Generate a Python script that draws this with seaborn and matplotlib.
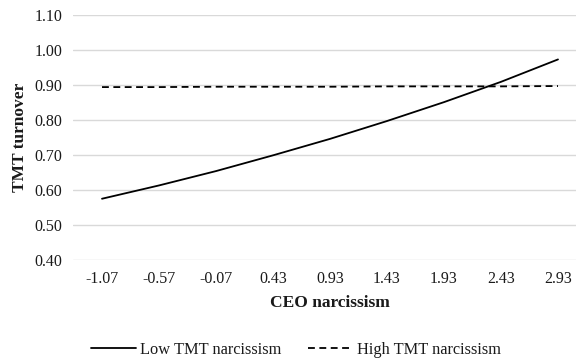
import matplotlib
import matplotlib.pyplot as plt
import pandas as pd
import seaborn as sns

matplotlib.use("agg")

# Data
ceo_narcissism = ["-1.07", "-0.57", "-0.07", "0.43", "0.93", "1.43", "1.93", "2.43", "2.93"]
low_tmt = [0.575, 0.613, 0.654, 0.699, 0.746, 0.797, 0.851, 0.909, 0.973]
high_tmt = [0.894, 0.894, 0.895, 0.895, 0.895, 0.896, 0.896, 0.896, 0.897]
y_ticks = [0.40, 0.50, 0.60, 0.70, 0.80, 0.90, 1.00, 1.10]

low_name = "Low TMT narcissism"
high_name = "High TMT narcissism"

df = pd.concat(
    [
        pd.DataFrame({"CEO": ceo_narcissism, "TMT": low_tmt, "group": low_name}),
        pd.DataFrame({"CEO": ceo_narcissism, "TMT": high_tmt, "group": high_name}),
    ],
    ignore_index=True,
)

sns.set_style("white")
plt.rcParams["font.family"] = ["Liberation Serif", "DejaVu Serif"]
text_color = "#1a1a1a"

fig = plt.figure(figsize=(5.76, 3.61), dpi=100)
ax = fig.add_axes([0.1276, 0.2798, 0.8906, 0.6787])

sns.lineplot(
    data=df,
    x="CEO",
    y="TMT",
    hue="group",
    style="group",
    palette={low_name: "black", high_name: "black"},
    dashes={low_name: "", high_name: (3.8, 2.5)},
    linewidth=1.3,
    sort=False,
    ax=ax,
)

ax.set_xlim(-0.5, len(ceo_narcissism) - 0.5)
ax.set_ylim(0.40, 1.10)
ax.set_yticks(y_ticks)
ax.set_yticklabels([f"{v:.2f}" for v in y_ticks])
ax.yaxis.grid(True, color="#d9d9d9", linewidth=1.0)
ax.xaxis.grid(False)
for side in ["top", "right", "left", "bottom"]:
    ax.spines[side].set_visible(False)
ax.tick_params(axis="both", length=0, labelsize=11.5, colors=text_color)
ax.tick_params(axis="y", pad=8)
ax.tick_params(axis="x", pad=8)

ax.set_xlabel("CEO narcissism", fontsize=12.5, fontweight="bold", color=text_color, labelpad=6)
ax.set_ylabel("TMT turnover", fontsize=12.5, fontweight="bold", color=text_color, labelpad=5)

handles, labels = ax.get_legend_handles_labels()
ax.legend_.remove()
fig.legend(
    handles,
    labels,
    loc="center",
    bbox_to_anchor=(0.514, 0.03),
    ncol=2,
    frameon=False,
    fontsize=11.8,
    handlelength=2.75,
    handletextpad=0.25,
    columnspacing=1.6,
    labelcolor=text_color,
)

fig.savefig("out.png", dpi=100)
